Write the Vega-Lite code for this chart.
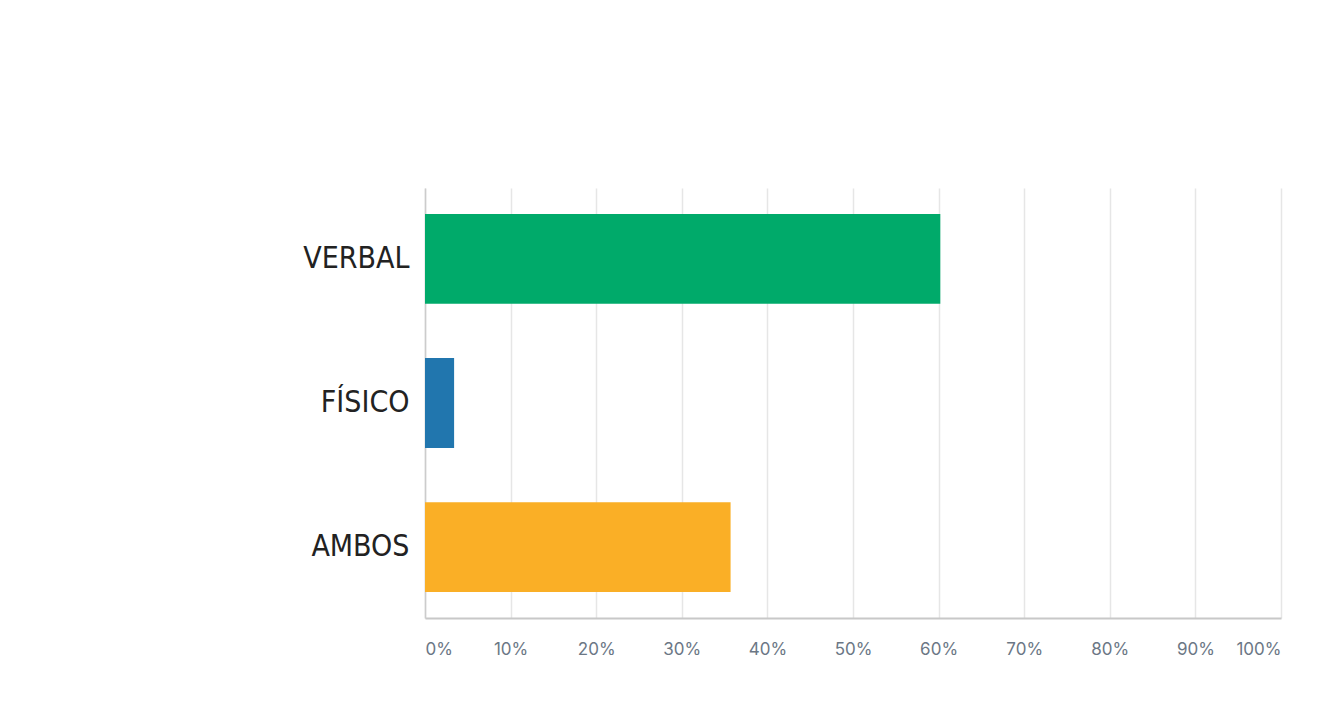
{
  "$schema": "https://vega.github.io/schema/vega-lite/v6.json",
  "autosize": {"type": "none"},
  "padding": {"left": 425, "top": 188, "right": 60, "bottom": 87},
  "width": 856,
  "height": 430,
  "background": "#ffffff",
  "data": {
    "values": [
      {"tipo": "VERBAL", "pct": 0.602},
      {"tipo": "FÍSICO", "pct": 0.034},
      {"tipo": "AMBOS", "pct": 0.357}
    ]
  },
  "mark": {"type": "bar"},
  "encoding": {
    "y": {
      "field": "tipo",
      "type": "nominal",
      "sort": ["VERBAL", "FÍSICO", "AMBOS"],
      "scale": {"paddingInner": 0.376, "paddingOuter": 0.18},
      "axis": {
        "title": null,
        "ticks": false,
        "domain": true,
        "domainColor": "#cccccc",
        "domainWidth": 1.5,
        "labelFont": "DejaVu Sans Condensed, Liberation Sans Narrow, Roboto, sans-serif",
        "labelFontSize": 30,
        "labelFontWeight": 200,
        "labelColor": "#222222",
        "labelPadding": 16
      }
    },
    "x": {
      "field": "pct",
      "type": "quantitative",
      "scale": {"domain": [0, 1], "nice": false},
      "axis": {
        "title": null,
        "format": "%",
        "values": [0, 0.1, 0.2, 0.3, 0.4, 0.5, 0.6, 0.7, 0.8, 0.9, 1],
        "ticks": false,
        "grid": true,
        "gridColor": "#e6e6e6",
        "gridWidth": 1.5,
        "domainColor": "#c8c8c8",
        "domainWidth": 2,
        "labelFlush": true,
        "labelFont": "Inter",
        "labelFontSize": 17,
        "labelColor": "#6b7785",
        "labelPadding": 23
      }
    },
    "color": {
      "field": "tipo",
      "type": "nominal",
      "scale": {"domain": ["VERBAL", "FÍSICO", "AMBOS"], "range": ["#00AA6A", "#2176AE", "#FAAF26"]},
      "legend": null
    }
  },
  "config": {"view": {"stroke": null}}
}
